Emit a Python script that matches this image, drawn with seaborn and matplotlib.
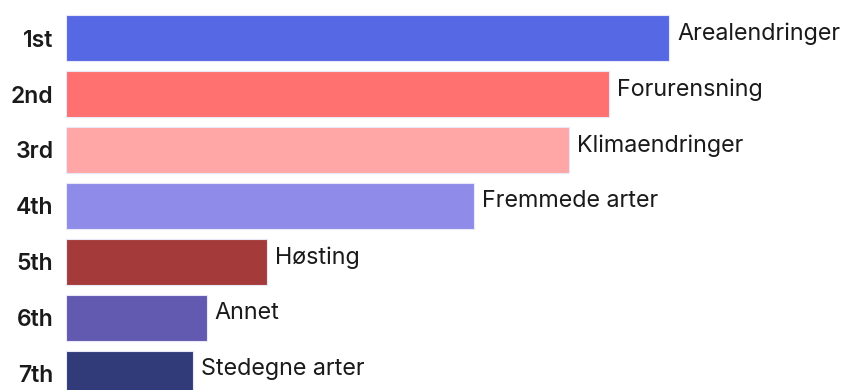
import matplotlib
matplotlib.use("Agg")
import matplotlib.pyplot as plt
import seaborn as sns
import pandas as pd

ranks = ["1st", "2nd", "3rd", "4th", "5th", "6th", "7th"]
drivers = ["Arealendringer", "Forurensning", "Klimaendringer", "Fremmede arter",
           "Høsting", "Annet", "Stedegne arter"]
values = [30.0, 27.0, 25.0, 20.3, 10.0, 7.0, 6.3]
colors = ["#5668E3", "#FF7070", "#FFA6A6", "#8E8CE8", "#A53A3A", "#6259B1", "#323B7A"]

df = pd.DataFrame({"rank": ranks, "driver": drivers, "value": values})

sns.set_theme(style="white")
plt.rcParams["font.family"] = ["Inter", "DejaVu Sans"]

fig = plt.figure(figsize=(8.53, 3.90), dpi=100)
ax = fig.add_axes([66 / 853, 0, 787 / 853, 1])

sns.barplot(data=df, y="rank", x="value", hue="rank", palette=colors,
            orient="h", width=0.82, legend=False, ax=ax,
            edgecolor="#e8e8f8", linewidth=0.8, saturation=1)

for i, (v, lab) in enumerate(zip(values, drivers)):
    ax.text(v + 0.4, i - 0.08, lab, va="center", ha="left", fontsize=16.8, color="#1a1a1a")

ax.set_xlim(0, 39.15)
ax.set_ylim(6.29, -0.68)
ax.set_xlabel("")
ax.set_ylabel("")
ax.set_xticks([])
ax.tick_params(axis="y", length=0, pad=9, labelsize=16.5)
for t in ax.get_yticklabels():
    t.set_fontweight("semibold")
    t.set_color("#1a1a1a")
sns.despine(ax=ax, left=True, bottom=True)

fig.savefig("out.png", dpi=100)
